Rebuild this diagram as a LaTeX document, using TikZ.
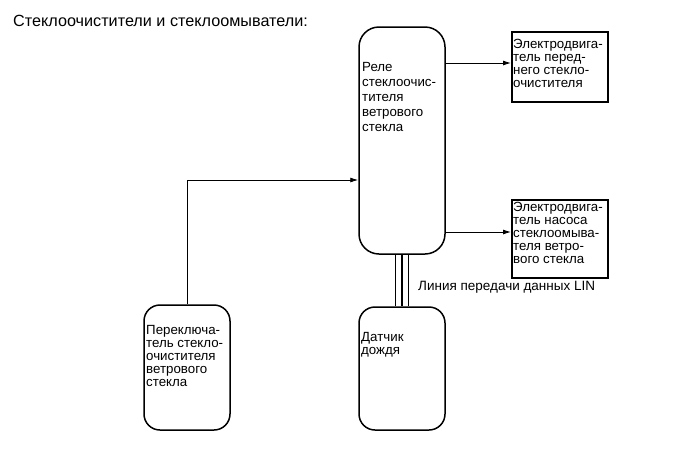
\documentclass[tikz,border=0pt]{standalone}
\usepackage{fontspec}
\setmainfont{Liberation Sans}
\usetikzlibrary{arrows.meta}
\begin{document}
\begin{tikzpicture}[x=1pt,y=-1pt,
  rbox/.style={draw, line width=1.5pt, rounded corners=16pt, inner sep=0pt},
  sbox/.style={draw, line width=2pt, inner sep=0pt},
  txt/.style={anchor=north west, inner sep=0pt, align=left, font=\fontsize{13.3}{13}\selectfont},
  conn/.style={line width=0.9pt},
  arr/.style={line width=0.9pt, -{Latex[length=8pt,width=5pt]}}]
\useasboundingbox (0,0) rectangle (691,467);
\node[anchor=base west, inner sep=0pt, font=\fontsize{16.2}{18}\selectfont] (title) at (13,26) {Стеклоочистители и стеклоомыватели:};
\node[rbox, rounded corners=20pt, minimum width=86pt, minimum height=227pt] (relay) at (402,140.5) {};
\node[sbox, minimum width=96pt, minimum height=70pt] (m1) at (560,67) {};
\node[sbox, minimum width=96pt, minimum height=78pt] (m2) at (560,239) {};
\node[rbox, minimum width=86pt, minimum height=123pt] (rain) at (402,368.5) {};
\node[rbox, minimum width=86pt, minimum height=125pt] (sw) at (187,367.5) {};
\node[txt, font=\fontsize{13.3}{15}\selectfont] (relayt) at (362,62) {Реле\\стеклоочис-\\тителя\\ветрового\\стекла};
\node[txt] (m1t) at (513,39.5) {Электродвига-\\тель перед-\\него стекло-\\очистителя};
\node[txt] (m2t) at (513,202.5) {Электродвига-\\тель насоса\\стеклоомыва-\\теля ветро-\\вого стекла};
\node[txt] (swt) at (146,325.5) {Переключа-\\тель стекло-\\очистителя\\ветрового\\стекла};
\node[txt] (raint) at (361,332.5) {Датчик\\дождя};
\node[anchor=west, inner sep=0pt, font=\fontsize{13.5}{13}\selectfont] (lin) at (418,287) {Линия передачи данных LIN};
\coordinate (a1) at ([yshift=4pt]m1.west);
\coordinate (a2) at ([yshift=7pt]m2.west);
\draw[arr] (relay.east |- a1) -- (a1);
\draw[arr] (relay.east |- a2) -- (a2);
\coordinate (bend) at (sw.north |- 0,180);
\draw[arr] (sw.north) -- (bend) -- (relay.west |- bend);
\draw[line width=2pt] (relay.south) -- (rain.north);
\draw[conn] ([xshift=-6.5pt]relay.south) -- ([xshift=-6.5pt]rain.north);
\draw[conn] ([xshift=6.5pt]relay.south) -- ([xshift=6.5pt]rain.north);
\end{tikzpicture}
\end{document}
